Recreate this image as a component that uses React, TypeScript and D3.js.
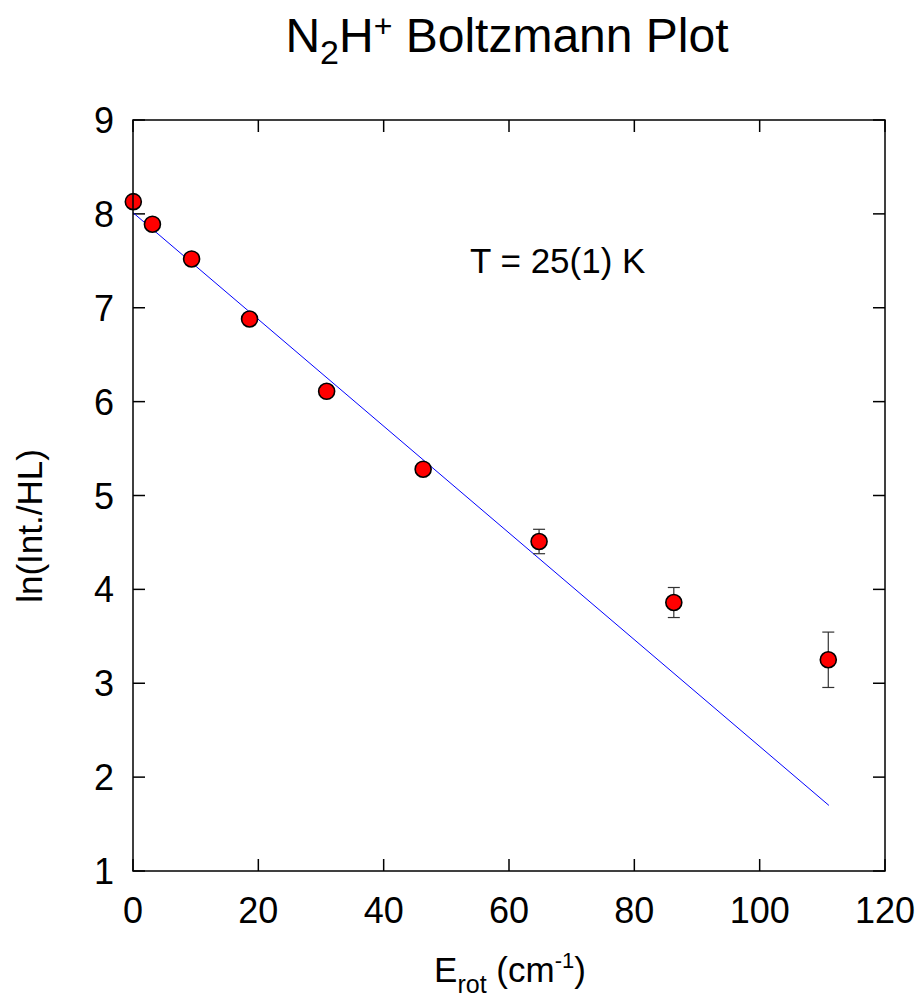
import React from 'react';
import * as d3 from 'd3';

const energies = [0.05, 3.1, 9.35, 18.6, 30.9, 46.3, 64.8, 86.3, 110.95];
const lnInt = [8.13, 7.89, 7.52, 6.88, 6.11, 5.28, 4.51, 3.86, 3.25];
const errs = [0.02, 0.02, 0.02, 0.03, 0.03, 0.04, 0.13, 0.16, 0.295];
const xTicks = [0, 20, 40, 60, 80, 100, 120];
const yTicks = [1, 2, 3, 4, 5, 6, 7, 8, 9];
const fitIntercept = 8.013;
const fitSlope = -0.05686;
const fitRange = [0, 111.05];

const FONT = '"Liberation Sans", Arial, Helvetica, sans-serif';

const App = () => {
	const width = 921;
	const height = 997;
	const left = 133, right = 885, top = 120, bottom = 871;

	const x = d3.scaleLinear().domain([0, 120]).range([left, right]);
	const y = d3.scaleLinear().domain([1, 9]).range([bottom, top]);
	const tick = 12;

	const fit = d3.line<number>()
		.x((d) => x(d))
		.y((d) => y(fitIntercept + fitSlope * d));

	return (
		<svg width={width} height={height} style={{ position: 'absolute', left: 0, top: 0, background: '#fff' }} fontFamily={FONT}>
			{/* title */}
			<text x={507} y={52} fontSize={48} textAnchor="middle" fill="#000">
				N<tspan fontSize={34} dy={12}>2</tspan>
				<tspan dy={-12}>H</tspan>
				<tspan fontSize={32} dy={-15}>+</tspan>
				<tspan dy={15}> Boltzmann Plot</tspan>
			</text>

			{/* ticks, all four sides, inward */}
			<g stroke="#000" strokeWidth={1.5}>
				{xTicks.map((t) => (
					<React.Fragment key={'x' + t}>
						<line x1={x(t)} x2={x(t)} y1={bottom} y2={bottom - tick} />
						<line x1={x(t)} x2={x(t)} y1={top} y2={top + tick} />
					</React.Fragment>
				))}
				{yTicks.map((t) => (
					<React.Fragment key={'y' + t}>
						<line x1={left} x2={left + tick} y1={y(t)} y2={y(t)} />
						<line x1={right} x2={right - tick} y1={y(t)} y2={y(t)} />
					</React.Fragment>
				))}
			</g>

			{/* tick labels */}
			<g fontSize={36} fill="#000">
				{xTicks.map((t) => (
					<text key={'xl' + t} x={x(t)} y={923} textAnchor="middle">{t}</text>
				))}
				{yTicks.map((t) => (
					<text key={'yl' + t} x={114} y={y(t) + 13} textAnchor="end">{t}</text>
				))}
			</g>

			{/* fit line */}
			<path d={fit(fitRange) || ''} fill="none" stroke="#0000ff" strokeWidth={1} />

			{/* error bars */}
			<g stroke="#333" strokeWidth={1.2}>
				{energies.map((e, i) => (
					<g key={'e' + i}>
						<line x1={x(e)} x2={x(e)} y1={y(lnInt[i] - errs[i])} y2={y(lnInt[i] + errs[i])} />
						<line x1={x(e) - 6} x2={x(e) + 6} y1={y(lnInt[i] - errs[i])} y2={y(lnInt[i] - errs[i])} />
						<line x1={x(e) - 6} x2={x(e) + 6} y1={y(lnInt[i] + errs[i])} y2={y(lnInt[i] + errs[i])} />
					</g>
				))}
			</g>

			{/* points */}
			{energies.map((e, i) => (
				<circle key={'p' + i} cx={x(e)} cy={y(lnInt[i])} r={8} fill="#ff0000" stroke="#000" strokeWidth={1.6} />
			))}

			{/* frame */}
			<rect x={left} y={top} width={right - left} height={bottom - top} fill="none" stroke="#000" strokeWidth={1.5} />

			{/* annotation */}
			<text x={470} y={273} fontSize={35} fill="#000">T = 25(1) K</text>

			{/* axis labels */}
			<text x={510} y={982} fontSize={35} textAnchor="middle" fill="#000">
				E<tspan fontSize={25} dy={11}>rot</tspan>
				<tspan dy={-11}> (cm</tspan>
				<tspan fontSize={22} dy={-14}>-1</tspan>
				<tspan dy={14}>)</tspan>
			</text>
			<text transform="translate(42, 526) rotate(-90)" fontSize={35} textAnchor="middle" fill="#000">ln(Int./HL)</text>
		</svg>
	);
};

export default App;
